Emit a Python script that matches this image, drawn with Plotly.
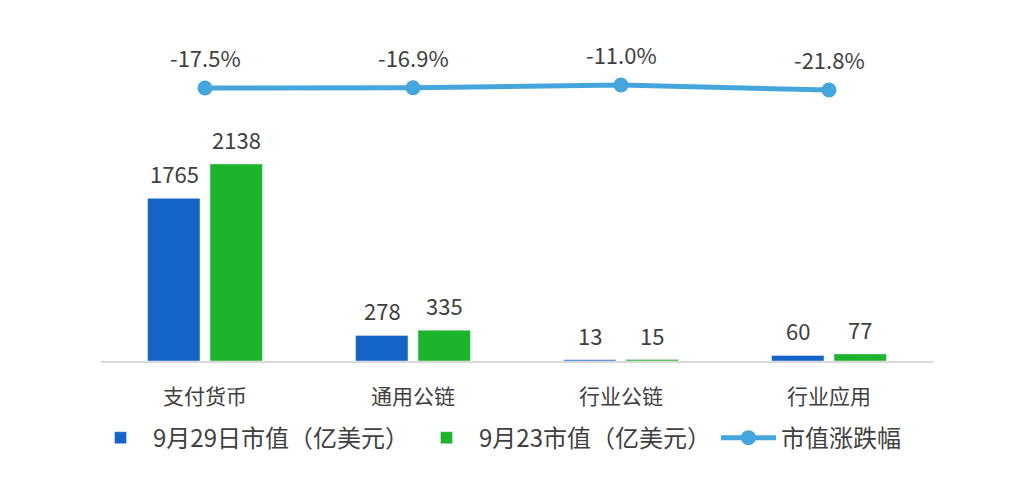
import plotly.graph_objects as go

categories = ["支付货币", "通用公链", "行业公链", "行业应用"]
value_0929 = [1765, 278, 13, 60]
value_0923 = [2138, 335, 15, 77]
change_pct = [-17.5, -16.9, -11.0, -21.8]

name_0929 = "9月29日市值（亿美元）"
name_0923 = "9月23市值（亿美元）"
name_change = "市值涨跌幅"

FONT = "Noto Sans CJK SC, Noto Sans, sans-serif"
TXT = "#404040"
BLUE = "#1565C8"
GREEN = "#1DB32A"
LINE = "#45A6DD"

fig = go.Figure()
fig.add_trace(go.Bar(x=categories, y=value_0929, name=name_0929, marker_color=BLUE))
fig.add_trace(go.Bar(x=categories, y=value_0923, name=name_0923, marker_color=GREEN))
fig.add_trace(go.Scatter(x=categories, y=change_pct, name=name_change, yaxis="y2",
                         mode="lines+markers",
                         line=dict(color=LINE, width=5),
                         marker=dict(color=LINE, size=15), cliponaxis=False))

annotations = []
for c, v in zip(categories, value_0929):
    annotations.append(dict(x=c, y=v, xref="x", yref="y", text=str(v), showarrow=False,
                            xshift=-31, yshift=25, yanchor="middle",
                            font=dict(size=22, color=TXT)))
for c, v in zip(categories, value_0923):
    annotations.append(dict(x=c, y=v, xref="x", yref="y", text=str(v), showarrow=False,
                            xshift=31, yshift=25, yanchor="middle",
                            font=dict(size=22, color=TXT)))
for c, v in zip(categories, change_pct):
    annotations.append(dict(x=c, y=v, xref="x", yref="y2", text=f"{v:.1f}%", showarrow=False,
                            yshift=31, yanchor="middle",
                            font=dict(size=22, color=TXT)))

fig.update_layout(
    width=1020, height=478,
    margin=dict(l=93, r=95, t=12, b=125),
    paper_bgcolor="white", plot_bgcolor="white",
    font=dict(family=FONT, color=TXT),
    barmode="group", bargap=0.40, bargroupgap=0.16,
    annotations=annotations,
    xaxis=dict(showline=True, linecolor="#D9D9D9", linewidth=2, ticks="",
               tickfont=dict(size=21, color=TXT), showgrid=False, ticklabelstandoff=16),
    yaxis=dict(range=[0, 3700], visible=False, showgrid=False),
    yaxis2=dict(range=[-607, 129.5], overlaying="y", side="right", visible=False, showgrid=False),
    legend=dict(orientation="h", x=0.476, xanchor="center", xref="paper",
                y=-0.16, yanchor="top", font=dict(size=24, color=TXT),
                itemwidth=55, traceorder="normal"),
    showlegend=True,
)

fig.write_html("out.html")
